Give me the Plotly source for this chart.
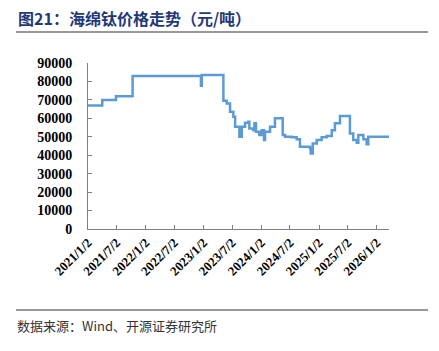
import plotly.graph_objects as go

dates = ["2021-01-02", "2021-04-02", "2021-06-28", "2021-10-11", "2022-12-17", "2022-12-22",
         "2023-05-08", "2023-05-29", "2023-06-19", "2023-07-10", "2023-07-21", "2023-08-17",
         "2023-09-01", "2023-09-22", "2023-10-13", "2023-10-19", "2023-11-13", "2023-11-20",
         "2023-11-30", "2023-12-21", "2024-01-05", "2024-01-20", "2024-01-26", "2024-02-27",
         "2024-03-29", "2024-04-30", "2024-05-17", "2024-06-01", "2024-07-13", "2024-08-13",
         "2024-09-03", "2024-11-06", "2024-11-10", "2024-11-23", "2024-12-18", "2025-01-18",
         "2025-02-19", "2025-03-23", "2025-04-12", "2025-05-14", "2025-07-05", "2025-07-16",
         "2025-08-06", "2025-08-28", "2025-09-07", "2025-09-28", "2025-10-09", "2025-10-30",
         "2025-11-09", "2026-03-20"]
prices = [67000, 70000, 72000, 83000, 77700, 83500,
          69500, 68000, 63600, 60900, 55400, 50000,
          55400, 57600, 58200, 54500, 53600, 57300,
          52700, 50900, 53600, 48200, 52700, 55400,
          60000, 60000, 50900, 50000, 49700, 48600,
          44600, 43700, 41000, 46400, 48200, 49700,
          50400, 53600, 57300, 61200, 61200, 51800,
          48200, 46700, 50900, 50900, 48600, 46000,
          50000, 50000]

tick_vals = ["2021-01-02", "2021-07-02", "2022-01-02", "2022-07-02", "2023-01-02", "2023-07-02",
             "2024-01-02", "2024-07-02", "2025-01-02", "2025-07-02", "2026-01-02"]
tick_text = ["2021/1/2", "2021/7/2", "2022/1/2", "2022/7/2", "2023/1/2", "2023/7/2",
             "2024/1/2", "2024/7/2", "2025/1/2", "2025/7/2", "2026/1/2"]
y_ticks = [0, 10000, 20000, 30000, 40000, 50000, 60000, 70000, 80000, 90000]

fig = go.Figure()
fig.add_trace(go.Scatter(x=dates, y=prices, mode="lines",
                         line=dict(color="#5B9BD5", width=2.5, shape="hv"),
                         showlegend=False))

serif = "Liberation Serif, Times New Roman, serif"
fig.update_layout(
    width=439, height=351,
    margin=dict(l=88, r=50, t=63, b=122),
    paper_bgcolor="white", plot_bgcolor="white",
    xaxis=dict(range=["2021-01-02", "2026-03-20"], tickmode="array",
               tickvals=tick_vals, ticktext=tick_text, tickangle=-45,
               showgrid=False, zeroline=False, showline=True, linecolor="#808080",
               linewidth=1, ticks="inside", ticklen=4, tickcolor="#808080",
               tickfont=dict(family=serif, size=13, color="black", weight="bold")),
    yaxis=dict(range=[0, 90000], tickmode="array", tickvals=y_ticks,
               ticktext=[str(v) for v in y_ticks],
               showgrid=False, zeroline=False, showline=True, linecolor="#808080",
               linewidth=1, ticks="inside", ticklen=4, tickcolor="#808080",
               ticklabelstandoff=12,
               tickfont=dict(family=serif, size=14, color="black", weight="bold")),
)

fig.add_annotation(text="<b>图21：海绵钛价格走势（元/吨）</b>", xref="paper", yref="paper",
                   x=(16 - 88) / 301, y=1 + (63 - 18) / 166, xanchor="left", yanchor="middle",
                   showarrow=False,
                   font=dict(family="Noto Sans CJK SC", size=16, color="#1F3A78"))
fig.add_annotation(text="数据来源：Wind、开源证券研究所", xref="paper", yref="paper",
                   x=(15 - 88) / 301, y=-(325 - 229) / 166, xanchor="left", yanchor="middle",
                   showarrow=False,
                   font=dict(family="Noto Sans CJK SC", size=13, color="#333333"))
fig.add_shape(type="line", xref="paper", yref="paper",
              x0=(16 - 88) / 301, x1=(428 - 88) / 301, y0=1 + (63 - 32) / 166, y1=1 + (63 - 32) / 166,
              line=dict(color="#333333", width=1.2))
fig.add_shape(type="line", xref="paper", yref="paper",
              x0=(16 - 88) / 301, x1=(428 - 88) / 301, y0=-(310 - 229) / 166, y1=-(310 - 229) / 166,
              line=dict(color="#333333", width=1.2))

fig.write_html("out.html")
